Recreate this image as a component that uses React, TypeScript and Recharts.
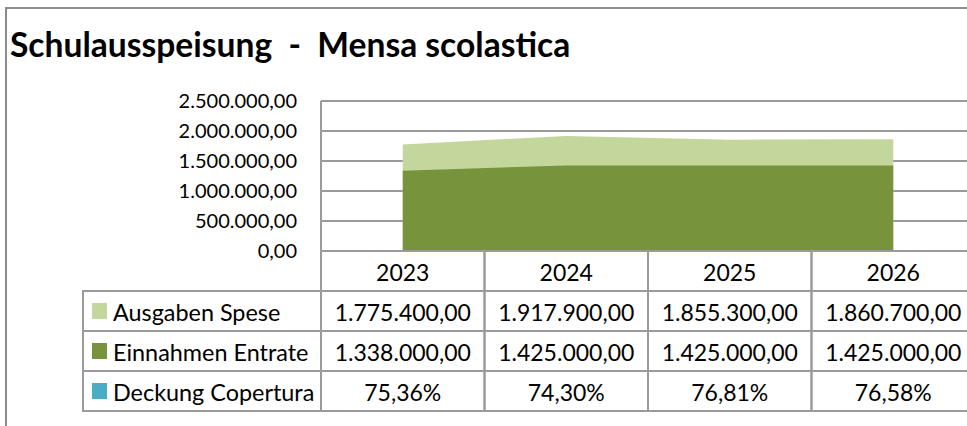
import React from 'react';
import { AreaChart, Area, XAxis, YAxis, CartesianGrid } from 'recharts';

const years = ['2023', '2024', '2025', '2026'];
const ausgaben = [1775400, 1917900, 1855300, 1860700];
const einnahmen = [1338000, 1425000, 1425000, 1425000];
const deckung = [75.36, 74.3, 76.81, 76.58];
const yTicks = [0, 500000, 1000000, 1500000, 2000000, 2500000];
const seriesNames = ['Ausgaben Spese', 'Einnahmen Entrate', 'Deckung Copertura'];
const seriesColors = ['#C3D69B', '#77933C', '#4BACC6'];
const title = 'Schulausspeisung  -  Mensa scolastica';

const data = years.map((y, i) => ({ year: y, ausgaben: ausgaben[i], einnahmen: einnahmen[i], deckung: deckung[i] }));

function fmtNum(v: number): string {
  const [int, dec] = v.toFixed(2).split('.');
  return int.replace(/\B(?=(\d{3})+(?!\d))/g, '.') + ',' + dec;
}
function fmtPct(v: number): string {
  return v.toFixed(2).replace('.', ',') + '%';
}

const FONT = 'Lato, "Open Sans", sans-serif';
const COL_W = 163.5;
const ROW_H = 40;
const LEGEND_LEFT = 83;
const LINE = '#9a9a9a';
const TABLE_FS = 23;

const rowValues = [ausgaben.map(fmtNum), einnahmen.map(fmtNum), deckung.map(fmtPct)];

const TableTick = (props: any) => {
  const { x, y, index, payload } = props;
  const left = x - COL_W / 2;
  const right = x + COL_W / 2;
  const top = y;
  const bottom = top + ROW_H * 4;
  const els: any[] = [];
  els.push(<line key="l" x1={left} y1={top} x2={left} y2={bottom} stroke={LINE} strokeWidth={2} />);
  els.push(<line key="r" x1={right} y1={top} x2={right} y2={bottom} stroke={LINE} strokeWidth={2} />);
  for (let r = 0; r <= 4; r++) {
    els.push(<line key={'h' + r} x1={left - 1} y1={top + r * ROW_H} x2={right + 1} y2={top + r * ROW_H} stroke={LINE} strokeWidth={2} />);
  }
  els.push(
    <text key="yr" x={x} y={top + ROW_H / 2 + 1} textAnchor="middle" dominantBaseline="central" fontSize={TABLE_FS} fontFamily={FONT} fill="#000">
      {payload.value}
    </text>
  );
  rowValues.forEach((vals, r) => {
    els.push(
      <text key={'v' + r} x={x} y={top + ROW_H * (r + 1.5) + 1} textAnchor="middle" dominantBaseline="central" fontSize={TABLE_FS} fontFamily={FONT} fill="#000">
        {vals[index]}
      </text>
    );
  });
  if (index === 0) {
    els.push(<line key="ll" x1={LEGEND_LEFT} y1={top + ROW_H} x2={LEGEND_LEFT} y2={bottom} stroke={LINE} strokeWidth={2} />);
    for (let r = 1; r <= 4; r++) {
      els.push(<line key={'lh' + r} x1={LEGEND_LEFT - 1} y1={top + r * ROW_H} x2={left} y2={top + r * ROW_H} stroke={LINE} strokeWidth={2} />);
    }
    seriesNames.forEach((n, r) => {
      const cy = top + ROW_H * (r + 1.5);
      els.push(<rect key={'sq' + r} x={LEGEND_LEFT + 9} y={cy - 8} width={15} height={16} fill={seriesColors[r]} />);
      els.push(
        <text key={'ln' + r} x={LEGEND_LEFT + 30} y={cy + 1} textAnchor="start" dominantBaseline="central" fontSize={23.4} fontFamily={FONT} fill="#000">
          {n}
        </text>
      );
    });
  }
  return <g>{els}</g>;
};

export default function App() {
  return (
    <div style={{ position: 'absolute', left: 0, top: 0, width: 967, height: 426, overflow: 'hidden', background: '#fff', fontFamily: FONT }}>
      <div style={{ position: 'absolute', left: 5, top: 7, width: 1000, height: 500, borderLeft: '2px solid #8c8c8c', borderTop: '2px solid #8c8c8c' }} />
      <div style={{ position: 'absolute', left: 10, top: 24, fontSize: 33.6, fontWeight: 700, lineHeight: '40px', whiteSpace: 'pre', color: '#000', fontFamily: FONT }}>
        {title}
      </div>
      <div style={{ position: 'absolute', left: 0, top: 0 }}>
        <AreaChart width={1000} height={426} data={data} margin={{ top: 101, right: 25, bottom: 0, left: 0 }}>
          <CartesianGrid vertical={false} stroke={LINE} strokeWidth={2} />
          <YAxis
            width={321}
            domain={[0, 2500000]}
            ticks={yTicks}
            interval={0}
            tickFormatter={fmtNum}
            axisLine={{ stroke: LINE, strokeWidth: 2 }}
            tickLine={false}
            tickSize={0}
            tickMargin={24}
            tick={{ fill: '#000', fontSize: 20, fontFamily: FONT }}
          />
          <XAxis
            dataKey="year"
            height={175}
            interval={0}
            padding={{ left: COL_W / 2, right: COL_W / 2 }}
            axisLine={false}
            tickLine={false}
            tickSize={0}
            tickMargin={0}
            tick={<TableTick />}
          />
          <Area type="linear" dataKey="ausgaben" name={seriesNames[0]} fill={seriesColors[0]} fillOpacity={1} stroke="none" isAnimationActive={false} />
          <Area type="linear" dataKey="einnahmen" name={seriesNames[1]} fill={seriesColors[1]} fillOpacity={1} stroke="none" isAnimationActive={false} />
        </AreaChart>
      </div>
    </div>
  );
}
